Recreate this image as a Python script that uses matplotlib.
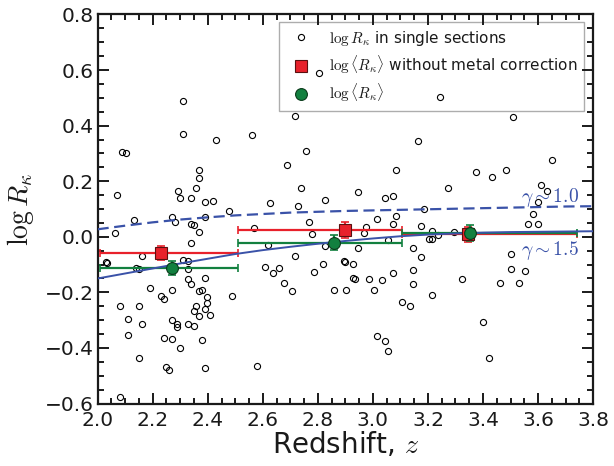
import matplotlib
matplotlib.use("Agg")
import matplotlib.pyplot as plt
from matplotlib.ticker import MultipleLocator
from matplotlib.lines import Line2D
import numpy as np

plt.rcParams['mathtext.fontset'] = 'cm'
plt.rcParams['font.family'] = ['DejaVu Sans']

# single-section measurements (z, log R_kappa)
z_single = [2.310, 2.090, 2.102, 2.072, 2.310, 2.429, 2.369, 2.369, 2.359, 2.291,
            2.300, 2.340, 2.389, 2.420, 2.479, 2.131, 2.271, 2.281, 2.389, 2.340,
            2.350, 2.369, 2.062, 2.340, 2.030, 2.035, 2.161, 2.139, 2.149, 2.311,
            2.329, 2.329, 2.389, 2.329, 2.339, 2.488, 2.190, 2.271, 2.370, 2.380,
            2.399, 2.230, 2.241, 2.399, 2.082, 2.151, 2.356, 2.349, 2.389, 2.410,
            2.369, 2.112, 2.161, 2.270, 2.289, 2.289, 2.329, 2.350, 2.112, 2.240,
            2.271, 2.380, 2.300, 2.151, 2.249, 2.260, 2.389, 2.080,
            2.717, 2.559, 2.757, 2.688, 2.737, 2.825, 2.628, 2.728, 2.767, 2.568,
            2.777, 2.618, 2.827, 2.718, 2.895, 2.900, 2.817, 2.608, 2.658, 2.787,
            2.638, 2.678, 2.707, 2.857, 2.904, 2.579, 2.806,
            3.510, 3.165, 3.651, 3.085, 3.374, 3.433, 3.483, 3.274, 2.946, 3.045,
            3.074, 3.611, 3.632, 3.601, 3.184, 3.085, 3.015, 3.583, 3.074, 2.975,
            3.175, 3.562, 3.601, 2.966, 3.214, 3.235, 3.205, 3.214, 3.294, 3.055,
            2.946, 3.144, 3.175, 3.502, 2.926, 3.502, 3.553, 3.074, 3.144, 2.926,
            2.936, 2.985, 3.034, 3.323, 3.462, 3.532, 3.144, 3.005, 3.214, 3.104,
            3.135, 3.401, 3.015, 3.045, 3.055, 3.423, 3.243]
logR_single = [0.488, 0.304, 0.300, 0.149, 0.370, 0.350, 0.242, 0.212, 0.174, 0.164,
               0.138, 0.140, 0.124, 0.129, 0.094, 0.060, 0.072, 0.053, 0.070, 0.045,
               0.041, 0.018, 0.014, -0.022, -0.090, -0.093, -0.068, -0.112, -0.115, -0.083,
               -0.087, -0.117, -0.149, -0.152, -0.169, -0.213, -0.185, -0.193, -0.195, -0.191,
               -0.216, -0.214, -0.224, -0.237, -0.249, -0.248, -0.248, -0.266, -0.260, -0.282,
               -0.285, -0.295, -0.313, -0.301, -0.314, -0.324, -0.315, -0.322, -0.353, -0.365,
               -0.367, -0.372, -0.400, -0.437, -0.470, -0.479, -0.471, -0.578,
               0.433, 0.368, 0.308, 0.260, 0.175, 0.132, 0.120, 0.110, 0.052, 0.030,
               0.009, -0.029, -0.032, -0.068, -0.086, -0.089, -0.097, -0.110, -0.112, -0.128,
               -0.132, -0.168, -0.194, -0.192, -0.193, -0.464, 0.591,
               0.432, 0.344, 0.275, 0.239, 0.233, 0.214, 0.242, 0.175, 0.161, 0.138,
               0.146, 0.187, 0.165, 0.125, 0.099, 0.074, 0.063, 0.082, 0.045, 0.036,
               0.038, 0.045, 0.045, 0.014, 0.021, 0.006, -0.009, -0.009, 0.018, -0.013,
               -0.042, -0.042, -0.071, -0.063, -0.098, -0.115, -0.123, -0.132, -0.120, -0.147,
               -0.153, -0.153, -0.157, -0.153, -0.168, -0.167, -0.170, -0.193, -0.209, -0.234,
               -0.250, -0.307, -0.358, -0.375, -0.410, -0.437, 0.503]

# binned means
bin_lo = [2.01, 2.51, 3.104]
bin_hi = [2.51, 3.104, 3.742]
z_red = [2.230, 2.897, 3.344]
logR_red = [-0.058, 0.025, 0.009]
err_red = [0.026, 0.028, 0.027]
z_green = [2.271, 2.857, 3.353]
logR_green = [-0.112, -0.021, 0.014]
err_green = [0.026, 0.028, 0.029]

# model curves
z_model = [2.0, 2.1, 2.2, 2.3, 2.4, 2.5, 2.6, 2.7, 2.8, 2.9, 3.0, 3.1, 3.2, 3.3, 3.4, 3.5, 3.6, 3.7, 3.8]
gamma10 = [0.027, 0.040, 0.052, 0.062, 0.070, 0.077, 0.082, 0.087, 0.090, 0.093,
           0.095, 0.097, 0.099, 0.101, 0.103, 0.105, 0.107, 0.109, 0.110]
gamma15 = [-0.150, -0.132, -0.114, -0.096, -0.079, -0.062, -0.048, -0.036, -0.025, -0.015,
           -0.006, 0.002, 0.008, 0.012, 0.015, 0.017, 0.018, 0.019, 0.020]

RED = '#e8212b'
GREEN = '#12803f'
BLUE = '#3a52a8'

fig = plt.figure(figsize=(6.14, 4.66), dpi=100)
ax = fig.add_axes([0.159, 0.134, 0.807, 0.835])

ax.plot(z_single, logR_single, 'o', mfc='none', mec='black', ms=4.4, mew=0.8,
        ls='none', zorder=2)

zr = np.array(z_red); zg = np.array(z_green)
xerr_red = [zr - np.array(bin_lo), np.array(bin_hi) - zr]
xerr_green = [zg - np.array(bin_lo), np.array(bin_hi) - zg]

ax.errorbar(z_red, logR_red, yerr=err_red, xerr=xerr_red, fmt='none', ecolor=RED,
            elinewidth=1.6, capsize=3, capthick=1.2, zorder=3)
ax.errorbar(z_green, logR_green, yerr=err_green, xerr=xerr_green, fmt='none', ecolor=GREEN,
            elinewidth=1.6, capsize=3, capthick=1.2, zorder=3)

ax.plot(z_model, gamma10, '--', color=BLUE, lw=1.6, dashes=(5, 2.5), zorder=4)
ax.plot(z_model, gamma15, '-', color=BLUE, lw=1.4, zorder=4)

ax.plot(z_red, logR_red, 's', mfc=RED, mec='#5a1010', ms=8, mew=0.8, ls='none', zorder=5)
ax.plot(z_green, logR_green, 'o', mfc=GREEN, mec='#0a3a1a', ms=8.5, mew=0.8, ls='none', zorder=6)

ax.text(3.748, 0.124, r'$\gamma\sim1.0$', color=BLUE, fontsize=14, ha='right', va='baseline')
ax.text(3.748, -0.064, r'$\gamma\sim1.5$', color=BLUE, fontsize=14, ha='right', va='baseline')

ax.set_xlim(2.0, 3.8)
ax.set_ylim(-0.6, 0.8)
ax.xaxis.set_major_locator(MultipleLocator(0.2))
ax.xaxis.set_minor_locator(MultipleLocator(0.05))
ax.yaxis.set_major_locator(MultipleLocator(0.2))
ax.yaxis.set_minor_locator(MultipleLocator(0.05))
ax.tick_params(which='both', direction='in', top=True, right=True, width=1.4, colors='#1a1a1a')
ax.tick_params(which='major', length=8, labelsize=14.5)
ax.tick_params(axis='x', which='major', pad=5.5)
ax.tick_params(axis='y', which='major', pad=3)
ax.tick_params(which='minor', length=4)
for s in ax.spines.values():
    s.set_linewidth(1.6)
    s.set_color('#1a1a1a')

ax.set_xlabel(r'Redshift, $z$', fontsize=20, color='#1a1a1a', labelpad=0)
ax.set_ylabel(r'$\log R_\kappa$', fontsize=20, color='#1a1a1a', labelpad=6)

handles = [
    Line2D([], [], marker='o', ls='none', mfc='none', mec='black', ms=4.4, mew=0.8),
    Line2D([], [], marker='s', ls='none', mfc=RED, mec='#5a1010', ms=8, mew=0.8),
    Line2D([], [], marker='o', ls='none', mfc=GREEN, mec='#0a3a1a', ms=8.5, mew=0.8),
]
labels = [r'$\log R_\kappa$ in single sections',
          r'$\log\langle R_\kappa\rangle$ without metal correction',
          r'$\log\langle R_\kappa\rangle$']
leg = ax.legend(handles, labels, loc='upper right', bbox_to_anchor=(0.982, 0.981),
                fontsize=11, frameon=True, fancybox=False, numpoints=1,
                labelspacing=0.4, borderpad=0.45, handlelength=2.0,
                handletextpad=0.8, borderaxespad=0.0)
leg.get_frame().set_edgecolor('#999999')
leg.get_frame().set_linewidth(1.0)
leg.set_zorder(1)
for t in leg.get_texts():
    t.set_color('#1a1a1a')

fig.savefig('out.png', dpi=100)
